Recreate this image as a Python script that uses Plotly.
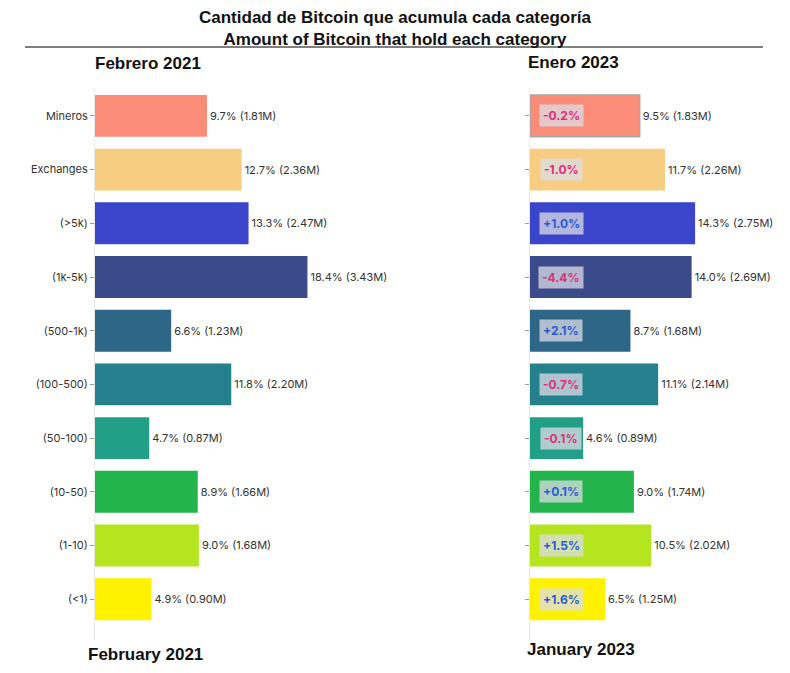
import plotly.graph_objs as go

# data
categories = ["Mineros", "Exchanges", "(>5k)", "(1k-5k)", "(500-1k)",
              "(100-500)", "(50-100)", "(10-50)", "(1-10)", "(<1)"]
pct_2021 = [9.7, 12.7, 13.3, 18.4, 6.6, 11.8, 4.7, 8.9, 9.0, 4.9]
btc_2021 = [1.81, 2.36, 2.47, 3.43, 1.23, 2.20, 0.87, 1.66, 1.68, 0.90]
pct_2023 = [9.5, 11.7, 14.3, 14.0, 8.7, 11.1, 4.6, 9.0, 10.5, 6.5]
btc_2023 = [1.83, 2.26, 2.75, 2.69, 1.68, 2.14, 0.89, 1.74, 2.02, 1.25]
change = [-0.2, -1.0, 1.0, -4.4, 2.1, -0.7, -0.1, 0.1, 1.5, 1.6]

colors = ["#FA8C78", "#F7CD82", "#3A45CC", "#3B4A8A", "#2E6688",
          "#25808E", "#22A087", "#23B44C", "#B5E51E", "#FFF200"]

W, H = 790, 673
OFF = 8  # page body margin


def px(x):
    return (x - OFF) / W


def py(y):
    return 1 - (y - OFF) / H


def labels(pcts, btcs):
    return ["%.1f%% (%.2fM)" % (p, b) for p, b in zip(pcts, btcs)]


fig = go.Figure()

fig.add_trace(go.Bar(
    x=pct_2021, y=categories, orientation="h",
    marker=dict(color=colors, line=dict(width=0)),
    text=labels(pct_2021, btc_2021), textposition="outside",
    textfont=dict(family="Inter", size=11, color="#333333"),
    cliponaxis=False, xaxis="x", yaxis="y", showlegend=False))

line_cols = ["#a8a8a8"] + ["rgba(255,255,255,0)"] * (len(categories) - 1)
fig.add_trace(go.Bar(
    x=pct_2023, y=categories, orientation="h",
    marker=dict(color=colors, line=dict(width=1.5, color=line_cols)),
    text=labels(pct_2023, btc_2023), textposition="outside",
    textfont=dict(family="Inter", size=11, color="#333333"),
    cliponaxis=False, xaxis="x2", yaxis="y2", showlegend=False))

ydom = [py(640), py(88)]
yrange = [9.76, -0.52]
yax = dict(domain=ydom, range=yrange, type="category",
           showline=True, linecolor="#e8e8e8", linewidth=1,
           ticks="outside", ticklen=4, tickcolor="#999999",
           showgrid=False, zeroline=False,
           tickfont=dict(family="Inter", size=11, color="#333333"))

fig.update_layout(
    width=W, height=H,
    margin=dict(l=0, r=0, t=0, b=0),
    paper_bgcolor="white", plot_bgcolor="white",
    bargap=0.22,
    xaxis=dict(domain=[px(95), px(349)], range=[0, 22], visible=False),
    xaxis2=dict(domain=[px(530), px(784)], range=[0, 22], visible=False),
    yaxis=dict(yax, anchor="x"),
    yaxis2=dict(yax, anchor="x2", showticklabels=False),
)

# titles
title_font = dict(family="Liberation Sans", size=17, color="#111111")
ann = [
    dict(text="<b>Cantidad de Bitcoin que acumula cada categoría<br>"
              "Amount of Bitcoin that hold each category</b>",
         x=px(395), y=py(6), yanchor="top", font=title_font),
    dict(text="<b>Febrero 2021</b>", x=px(148), y=py(63), font=title_font),
    dict(text="<b>Enero 2023</b>", x=px(573), y=py(62), font=title_font),
    dict(text="<b>February 2021</b>", x=px(145), y=py(654), font=title_font),
    dict(text="<b>January 2023</b>", x=px(581), y=py(649), font=title_font),
]
for a in ann:
    a.update(xref="paper", yref="paper", showarrow=False, xanchor="center",
             yanchor=a.get("yanchor", "middle"))
    fig.add_annotation(**a)

# change badges on the 2023 bars
for cat, c in zip(categories, change):
    fig.add_annotation(
        x=2.7, y=cat, xref="x2", yref="y2", showarrow=False,
        text="<b>%+.1f%%</b>" % c,
        font=dict(family="Inter", size=12,
                  color="#E0307A" if c < 0 else "#2A5BD7"),
        bgcolor="rgba(220,220,230,0.75)", borderpad=3)

fig.add_shape(type="line", xref="paper", yref="paper",
              x0=px(25), x1=px(763), y0=py(47), y1=py(47),
              line=dict(color="black", width=1))

fig.write_html("out.html")
